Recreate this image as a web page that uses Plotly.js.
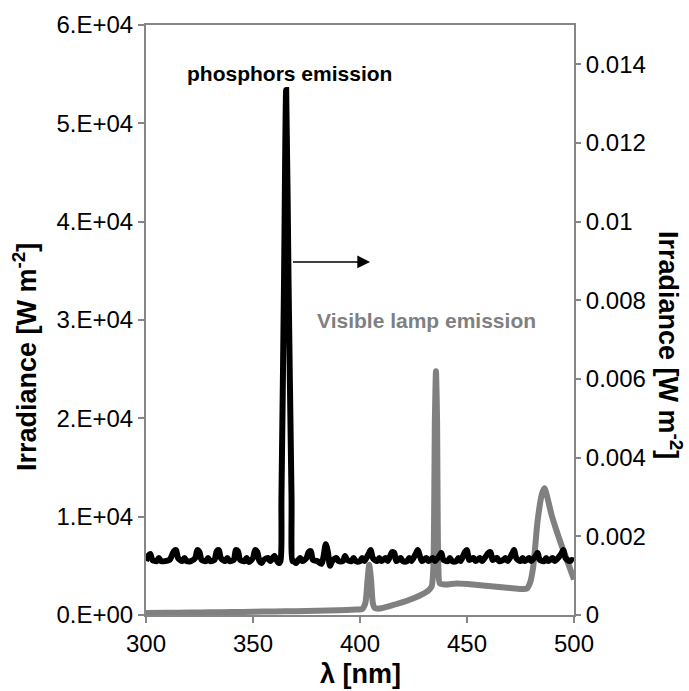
<!DOCTYPE html>
<html>
<head>
<meta charset="utf-8">
<script src="https://cdn.plot.ly/plotly-3.0.1.min.js"></script>
<style>
html,body{margin:0;padding:0;background:#fff;}
#chart{width:689px;height:691px;}
</style>
</head>
<body>
<div id="chart"></div>
<script>
// ---- Data ----
// Visible lamp emission (left axis, W m-2), wavelength in nm
const lampX = [300,310,320,330,340,350,360,370,380,390,398,401,402.5,403.5,404.3,405.2,406,407,409,412,416,420,425,429,432,433.5,434.3,435,435.5,436,436.6,437.3,440,445,450,455,460,465,470,475,478,479.5,481,483,485,486.2,487.5,489.5,491.5,494,497,500];
const lampY = [200,220,250,280,300,330,360,380,420,480,550,600,1200,3500,5100,3500,1200,700,650,800,1050,1300,1700,2100,2500,2900,5000,20000,24800,20000,5000,3200,3100,3200,3150,3050,2950,2850,2750,2650,2700,3300,5000,9600,12300,12900,12000,10200,8800,7200,5400,3600];

// Phosphors emission (right axis, W m-2), wavelength in nm
const phosX = [300,301,302,303,305,306,307,309,311,313,314,315,317,318,319,321,323,324,325,326,328,329,330,332,333,334,335,337,338,339,341,342,343,344,346,347,348,350,351,352,353,354,355,357,358,360,361,362,362.8,363.3,364.5,365.5,366.6,368.0,368.5,369,370,372,373,375,376,377,378,380,382,383,384,385,386,387,389,390,392,393,394,396,397,398,400,401,402,404,405,406,408,409,410,412,413,415,416,417,419,420,422,423,424,426,427,428,429,431,432,434,435,437,438,439,441,442,443,445,446,447,449,450,451,453,454,456,457,460,461,462,464,465,467,468,469,471,472,473,475,476,477,479,480,482,483,484,486,487,488,490,491,494,495,496,498,499,500];
const phosY = [0.00137,0.00150,0.00155,0.00140,0.00137,0.00145,0.00137,0.00137,0.00140,0.00162,0.00165,0.00145,0.00137,0.00145,0.00137,0.00137,0.00145,0.00165,0.00160,0.00140,0.00137,0.00145,0.00137,0.00140,0.00162,0.00165,0.00145,0.00137,0.00145,0.00137,0.00140,0.00165,0.00162,0.00140,0.00137,0.00145,0.00135,0.00145,0.00165,0.00160,0.00137,0.00132,0.00140,0.00145,0.00137,0.00150,0.00140,0.00132,0.00137,0.00300,0.00850,0.01335,0.00850,0.00300,0.00137,0.00137,0.00132,0.00145,0.00137,0.00145,0.00160,0.00162,0.00140,0.00137,0.00130,0.00150,0.00180,0.00160,0.00125,0.00137,0.00145,0.00137,0.00137,0.00150,0.00140,0.00137,0.00145,0.00137,0.00137,0.00145,0.00137,0.00155,0.00165,0.00145,0.00137,0.00145,0.00137,0.00145,0.00137,0.00160,0.00158,0.00137,0.00145,0.00137,0.00137,0.00145,0.00137,0.00155,0.00165,0.00150,0.00137,0.00145,0.00137,0.00145,0.00137,0.00150,0.00158,0.00140,0.00137,0.00145,0.00137,0.00137,0.00145,0.00137,0.00160,0.00165,0.00140,0.00145,0.00137,0.00145,0.00137,0.00158,0.00160,0.00140,0.00145,0.00137,0.00140,0.00145,0.00137,0.00155,0.00165,0.00145,0.00137,0.00145,0.00137,0.00145,0.00137,0.00150,0.00158,0.00140,0.00137,0.00145,0.00137,0.00145,0.00137,0.00155,0.00165,0.00145,0.00137,0.00140,0.00137];

// Ticks
const xTickVals = [300,350,400,450,500];
const leftTickVals = [0,10000,20000,30000,40000,50000,60000];
const leftTickText = ["0.E+00","1.E+04","2.E+04","3.E+04","4.E+04","5.E+04","6.E+04"];
const rightTickVals = [0,0.002,0.004,0.006,0.008,0.01,0.012,0.014];
const rightTickText = ["0","0.002","0.004","0.006","0.008","0.01","0.012","0.014"];

const FONT = "Liberation Sans, Arial, sans-serif";
const AXC = "#868686";
const TICKF = 24;
const TITLEF = 27;
const NOTEF = 21;

const traces = [
  {x: lampX, y: lampY, type: "scatter", mode: "lines", yaxis: "y",
   line: {color: "#808080", width: 6, shape: "spline", smoothing: 0.6}, hoverinfo: "skip"},
  {x: phosX, y: phosY, type: "scatter", mode: "lines", yaxis: "y2",
   line: {color: "#000000", width: 6, shape: "spline", smoothing: 0.8}, hoverinfo: "skip"}
];

const layout = {
  width: 689, height: 691,
  margin: {l: 146, r: 115, t: 25, b: 76, pad: 0},
  paper_bgcolor: "#ffffff", plot_bgcolor: "#ffffff",
  showlegend: false,
  font: {family: FONT, size: TICKF, color: "#000"},
  xaxis: {
    range: [300, 500], tickvals: xTickVals, ticktext: xTickVals.map(String),
    showgrid: false, zeroline: false, showline: true, linecolor: AXC, linewidth: 2,
    mirror: true, ticks: "outside", ticklen: 6, tickcolor: AXC, tickwidth: 2,
    tickfont: {family: FONT, size: TICKF, color: "#000"}
  },
  yaxis: {
    range: [0, 60000], tickvals: leftTickVals, ticktext: leftTickText,
    showgrid: false, zeroline: false, showline: true, linecolor: AXC, linewidth: 2,
    ticks: "outside", ticklen: 6, tickcolor: AXC, tickwidth: 2,
    tickfont: {family: FONT, size: TICKF, color: "#000"}
  },
  yaxis2: {
    overlaying: "y", side: "right",
    range: [0, 0.015], tickvals: rightTickVals, ticktext: rightTickText,
    showgrid: false, zeroline: false, showline: true, linecolor: AXC, linewidth: 2,
    ticks: "outside", ticklen: 5, tickcolor: AXC, tickwidth: 2,
    tickfont: {family: FONT, size: TICKF, color: "#000"}
  },
  annotations: [
    {text: "<b>λ [nm]</b>", xref: "paper", yref: "paper", x: 0.5, y: (615-674)/590,
     xanchor: "center", yanchor: "middle", showarrow: false,
     font: {family: FONT, size: TITLEF, color: "#000"}},
    {text: "<b>Irradiance [W m<sup>-2</sup>]</b>", xref: "paper", yref: "paper",
     x: (25-146)/428, y: (615-357)/590, textangle: -90, xanchor: "center", yanchor: "middle",
     showarrow: false, font: {family: FONT, size: TITLEF, color: "#000"}},
    {text: "<b>Irradiance [W m<sup>-2</sup>]</b>", xref: "paper", yref: "paper",
     x: (670-146)/428, y: (615-345)/590, textangle: 90, xanchor: "center", yanchor: "middle",
     showarrow: false, font: {family: FONT, size: TITLEF, color: "#000"}},
    {text: "<b>phosphors emission</b>", xref: "paper", yref: "paper",
     x: (289-146)/428, y: (615-73)/590, xanchor: "center", yanchor: "middle",
     showarrow: false, font: {family: FONT, size: NOTEF, color: "#000"}},
    {text: "<b>Visible lamp emission</b>", xref: "paper", yref: "paper",
     x: (426-146)/428, y: (615-320)/590, xanchor: "center", yanchor: "middle",
     showarrow: false, font: {family: FONT, size: NOTEF, color: "#808080"}},
    {text: "", x: 404.7, y: 35900, xref: "x", yref: "y", ax: 368.0, ay: 35900,
     axref: "x", ayref: "y", showarrow: true, arrowhead: 2, arrowsize: 1.7,
     arrowwidth: 1.5, arrowcolor: "#000"}
  ]
};

Plotly.newPlot("chart", traces, layout, {staticPlot: true, displayModeBar: false});
</script>
</body>
</html>
